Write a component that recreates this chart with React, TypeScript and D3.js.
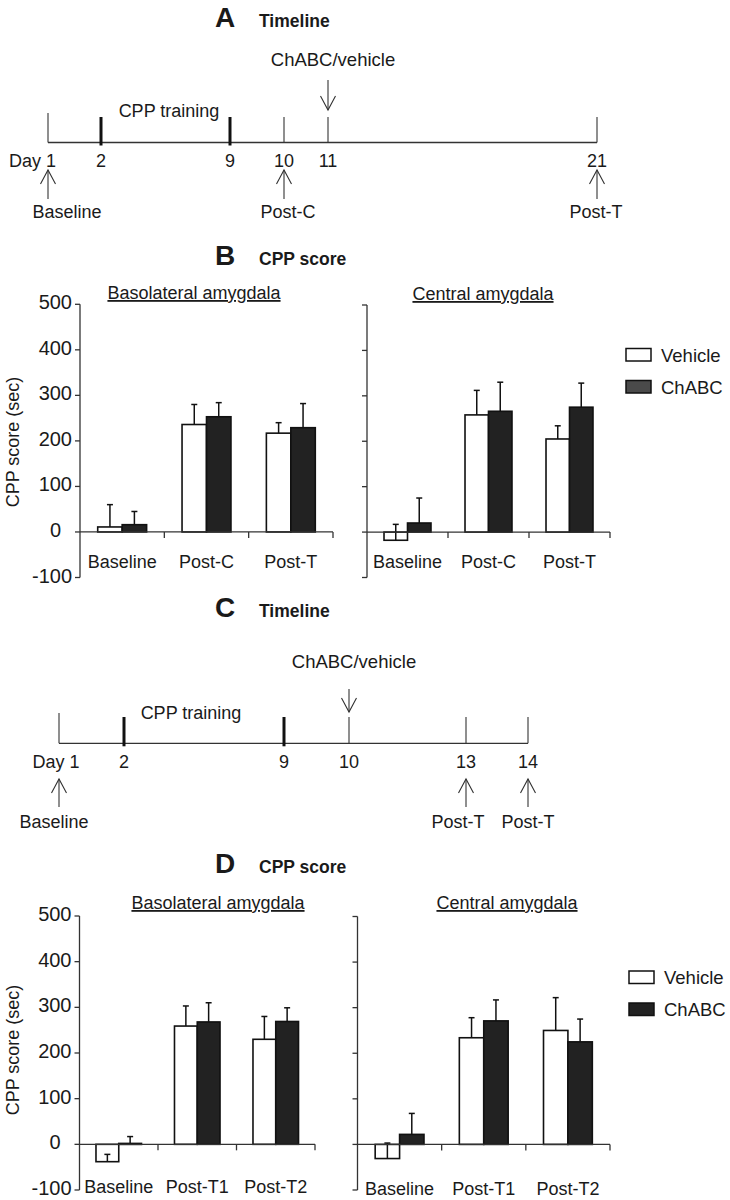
import React from "react";
import * as d3 from "d3";

// ---- data ----
const seriesNames = ["Vehicle", "ChABC"];
const yTicks = [-100, 0, 100, 200, 300, 400, 500];

const groupsB = ["Baseline", "Post-C", "Post-T"];
const groupsD = ["Baseline", "Post-T1", "Post-T2"];

// B, basolateral amygdala
const bBlaVehicle = [11, 236, 217];
const bBlaVehicleSem = [49, 44, 23];
const bBlaChabc = [16, 253, 229];
const bBlaChabcSem = [29, 31, 53];
// B, central amygdala
const bCeaVehicle = [-18, 258, 205];
const bCeaVehicleSem = [35, 54, 29];
const bCeaChabc = [20, 266, 275];
const bCeaChabcSem = [55, 64, 53];
// D, basolateral amygdala
const dBlaVehicle = [-38, 259, 230];
const dBlaVehicleSem = [16, 44, 50];
const dBlaChabc = [2, 268, 269];
const dBlaChabcSem = [15, 42, 30];
// D, central amygdala
const dCeaVehicle = [-31, 234, 250];
const dCeaVehicleSem = [34, 44, 72];
const dCeaChabc = [22, 271, 225];
const dCeaChabcSem = [46, 46, 50];

// timelines
const daysA = [1, 2, 9, 10, 11, 21];
const thickA = [2, 9];
const eventsA = [
  { day: 1, label: "Baseline" },
  { day: 10, label: "Post-C" },
  { day: 21, label: "Post-T" },
];
const daysC = [1, 2, 9, 10, 13, 14];
const thickC = [2, 9];
const eventsC = [
  { day: 1, label: "Baseline" },
  { day: 13, label: "Post-T" },
  { day: 14, label: "Post-T" },
];

const FONT = "'Liberation Sans', Arial, Helvetica, sans-serif";
const INK = "#1a1a1a";
const LINE = "#333";

function Header({ letter, text, y }: { letter: string; text: string; y: number }) {
  return (
    <g fontFamily={FONT} fill={INK}>
      <text x={225} y={y} fontSize={28} fontWeight="bold" textAnchor="middle">
        {letter}
      </text>
      <text x={259} y={y} fontSize={17.5} fontWeight="bold">
        {text}
      </text>
    </g>
  );
}

function UpArrow({ x, y1, y2 }: { x: number; y1: number; y2: number }) {
  // tip at y1 (top), tail at y2
  return (
    <g stroke={LINE} strokeWidth={1.1} fill="none">
      <line x1={x} x2={x} y1={y1} y2={y2} />
      <polyline points={`${x - 7.5},${y1 + 14} ${x},${y1} ${x + 7.5},${y1 + 14}`} />
    </g>
  );
}

function DownArrow({ x, y1, y2 }: { x: number; y1: number; y2: number }) {
  // tail at y1, tip at y2
  return (
    <g stroke={LINE} strokeWidth={1.1} fill="none">
      <line x1={x} x2={x} y1={y1} y2={y2} />
      <polyline points={`${x - 7.5},${y2 - 14} ${x},${y2} ${x + 7.5},${y2 - 14}`} />
    </g>
  );
}

interface TimelineLayout {
  range: number[];
  lineY: number;
  tickTop: number;
  injDay: number;
  injTextY: number;
  injArrow: [number, number];
  trainX: number;
  trainY: number;
  dayY: number;
  arrowTop: number;
  arrowBot: number;
  eventY: number;
  labelDx: number[];
  day1Anchor: "end" | "middle";
  day1X: number;
}

function Timeline({
  days,
  thick,
  events,
  L,
}: {
  days: number[];
  thick: number[];
  events: { day: number; label: string }[];
  L: TimelineLayout;
}) {
  const x = d3.scaleLinear().domain(days).range(L.range);
  const first = days[0];
  const last = days[days.length - 1];
  return (
    <g fontFamily={FONT} fill={INK} fontSize={18}>
      <line x1={x(first)} x2={x(last)} y1={L.lineY} y2={L.lineY} stroke={LINE} strokeWidth={1.3} />
      {days.map((d, i) => {
        const isThick = thick.includes(d);
        return (
          <line
            key={d}
            x1={x(d)}
            x2={x(d)}
            y1={i === 0 ? L.tickTop - 4 : L.tickTop}
            y2={isThick ? L.lineY + 3 : L.lineY}
            stroke={isThick ? "#111" : LINE}
            strokeWidth={isThick ? 3 : 1.1}
          />
        );
      })}
      {days.map((d, i) =>
        i === 0 ? (
          <text key={d} x={L.day1X} y={L.dayY} textAnchor={L.day1Anchor}>
            {`Day ${d}`}
          </text>
        ) : (
          <text key={d} x={x(d)} y={L.dayY} textAnchor="middle">
            {d}
          </text>
        )
      )}
      <text x={L.trainX} y={L.trainY} textAnchor="middle">
        CPP training
      </text>
      <text x={x(L.injDay) + 5} y={L.injTextY} textAnchor="middle" fontSize={18.5}>
        ChABC/vehicle
      </text>
      <DownArrow x={x(L.injDay)} y1={L.injArrow[0]} y2={L.injArrow[1]} />
      {events.map((e, i) => (
        <g key={i}>
          <UpArrow x={x(e.day)} y1={L.arrowTop} y2={L.arrowBot} />
          <text x={x(e.day) + L.labelDx[i]} y={L.eventY} textAnchor="middle">
            {e.label}
          </text>
        </g>
      ))}
    </g>
  );
}

interface BarLayout {
  x0: number;
  x1: number;
  yTop: number;
  yBot: number;
  titleX: number;
  titleY: number;
  labelY: number;
}

function BarPanel({
  groups,
  veh,
  vehSem,
  chabc,
  chabcSem,
  title,
  L,
  showY,
}: {
  groups: string[];
  veh: number[];
  vehSem: number[];
  chabc: number[];
  chabcSem: number[];
  title: string;
  L: BarLayout;
  showY: boolean;
}) {
  const y = d3.scaleLinear().domain([-100, 500]).range([L.yBot, L.yTop]);
  const xg = d3.scaleBand().domain(groups).range([L.x0, L.x1]).padding(0);
  const pair = xg.bandwidth() * 0.58;
  const xs = d3.scaleBand().domain(seriesNames).range([0, pair]).padding(0);
  const vals = [veh, chabc];
  const sems = [vehSem, chabcSem];
  const fills = ["#ffffff", "#222222"];
  const zero = y(0);

  return (
    <g fontFamily={FONT} fill={INK}>
      <text
        x={L.titleX}
        y={L.titleY}
        textAnchor="middle"
        fontSize={18}
        style={{ textDecoration: "underline" }}
      >
        {title}
      </text>
      {/* y axis */}
      <line x1={L.x0} x2={L.x0} y1={y(500)} y2={y(-100)} stroke={LINE} strokeWidth={1.3} />
      {yTicks.map((t) => (
        <g key={t}>
          <line x1={L.x0 - 5} x2={L.x0} y1={y(t)} y2={y(t)} stroke={LINE} strokeWidth={1.3} />
          {showY && (
            <text
              x={t === 0 ? L.x0 - 19 : L.x0 - 8}
              y={y(t)}
              dy="0.25em"
              textAnchor="end"
              fontSize={20}
            >
              {t}
            </text>
          )}
        </g>
      ))}
      {/* bars */}
      {groups.map((g, gi) =>
        seriesNames.map((s, si) => {
          const v = vals[si][gi];
          const e = sems[si][gi];
          const bx = (xg(g) as number) + (xg.bandwidth() - pair) / 2 + (xs(s) as number);
          const bw = xs.bandwidth();
          const cx = bx + bw / 2;
          return (
            <g key={g + s}>
              <rect
                x={bx}
                y={Math.min(y(v), zero)}
                width={bw}
                height={Math.max(Math.abs(y(v) - zero), 1)}
                fill={fills[si]}
                stroke="#111"
                strokeWidth={1.6}
              />
              <line x1={cx} x2={cx} y1={y(v)} y2={y(v + e)} stroke="#111" strokeWidth={1.5} />
              <line x1={cx - 3} x2={cx + 3} y1={y(v + e)} y2={y(v + e)} stroke="#111" strokeWidth={1.5} />
            </g>
          );
        })
      )}
      {/* x axis at zero */}
      <line x1={L.x0} x2={L.x1} y1={zero} y2={zero} stroke={LINE} strokeWidth={1.3} />
      {groups.map((g) => {
        const right = (xg(g) as number) + xg.bandwidth();
        return <line key={g} x1={right} x2={right} y1={zero} y2={zero + 6} stroke={LINE} strokeWidth={1.3} />;
      })}
      {groups.map((g) => (
        <text
          key={g}
          x={(xg(g) as number) + xg.bandwidth() / 2}
          y={L.labelY}
          textAnchor="middle"
          fontSize={18}
        >
          {g}
        </text>
      ))}
    </g>
  );
}

function Legend({ x, y, chabcFill }: { x: number; y: number; chabcFill: string }) {
  const fills = ["#ffffff", chabcFill];
  return (
    <g fontFamily={FONT} fill={INK} fontSize={18.5}>
      {seriesNames.map((s, i) => (
        <g key={s}>
          <rect x={x} y={y + i * 32} width={25} height={12.5} fill={fills[i]} stroke="#111" strokeWidth={1.5} />
          <text x={x + 35} y={y + i * 32 + 6.5} dy="0.36em">
            {s}
          </text>
        </g>
      ))}
    </g>
  );
}

function YLabel({ cy }: { cy: number }) {
  return (
    <text
      transform={`translate(19,${cy}) rotate(-90)`}
      textAnchor="middle"
      fontFamily={FONT}
      fontSize={18}
      fill={INK}
    >
      CPP score (sec)
    </text>
  );
}

const layoutA: TimelineLayout = {
  range: [48, 101, 230, 284, 328, 597],
  lineY: 142.5,
  tickTop: 117,
  injDay: 11,
  injTextY: 66,
  injArrow: [80, 110],
  trainX: 169,
  trainY: 117,
  dayY: 167,
  arrowTop: 170,
  arrowBot: 199,
  eventY: 218,
  labelDx: [19, 4, -1],
  day1Anchor: "end",
  day1X: 56,
};

const layoutC: TimelineLayout = {
  range: [59, 124, 284, 349, 466, 528],
  lineY: 743.3,
  tickTop: 717,
  injDay: 10,
  injTextY: 668,
  injArrow: [689, 712],
  trainX: 191,
  trainY: 719,
  dayY: 768,
  arrowTop: 779,
  arrowBot: 807,
  eventY: 828,
  labelDx: [-5, -8, 0],
  day1Anchor: "middle",
  day1X: 56,
};

export default function App() {
  return (
    <svg
      width={730}
      height={1200}
      style={{ position: "absolute", left: 0, top: 0, background: "#fff" }}
    >
      <rect width={730} height={1200} fill="#fff" />
      <Header letter="A" text="Timeline" y={27} />
      <Timeline days={daysA} thick={thickA} events={eventsA} L={layoutA} />

      <Header letter="B" text="CPP score" y={265} />
      <YLabel cy={442} />
      <BarPanel
        groups={groupsB}
        veh={bBlaVehicle}
        vehSem={bBlaVehicleSem}
        chabc={bBlaChabc}
        chabcSem={bBlaChabcSem}
        title="Basolateral amygdala"
        showY
        L={{ x0: 80, x1: 333, yTop: 304.3, yBot: 577.5, titleX: 194, titleY: 299, labelY: 568 }}
      />
      <BarPanel
        groups={groupsB}
        veh={bCeaVehicle}
        vehSem={bCeaVehicleSem}
        chabc={bCeaChabc}
        chabcSem={bCeaChabcSem}
        title="Central amygdala"
        showY={false}
        L={{ x0: 367, x1: 610, yTop: 305, yBot: 577.5, titleX: 483, titleY: 300, labelY: 568 }}
      />
      <Legend x={626} y={348.5} chabcFill="#4a4a4a" />

      <Header letter="C" text="Timeline" y={617} />
      <Timeline days={daysC} thick={thickC} events={eventsC} L={layoutC} />

      <Header letter="D" text="CPP score" y={873} />
      <YLabel cy={1050} />
      <BarPanel
        groups={groupsD}
        veh={dBlaVehicle}
        vehSem={dBlaVehicleSem}
        chabc={dBlaChabc}
        chabcSem={dBlaChabcSem}
        title="Basolateral amygdala"
        showY
        L={{ x0: 79.5, x1: 315, yTop: 916, yBot: 1190, titleX: 218, titleY: 909, labelY: 1193 }}
      />
      <BarPanel
        groups={groupsD}
        veh={dCeaVehicle}
        vehSem={dCeaVehicleSem}
        chabc={dCeaChabc}
        chabcSem={dCeaChabcSem}
        title="Central amygdala"
        showY={false}
        L={{ x0: 357.5, x1: 610, yTop: 916.5, yBot: 1190, titleX: 507, titleY: 909, labelY: 1195 }}
      />
      <Legend x={629} y={971} chabcFill="#222222" />
    </svg>
  );
}
